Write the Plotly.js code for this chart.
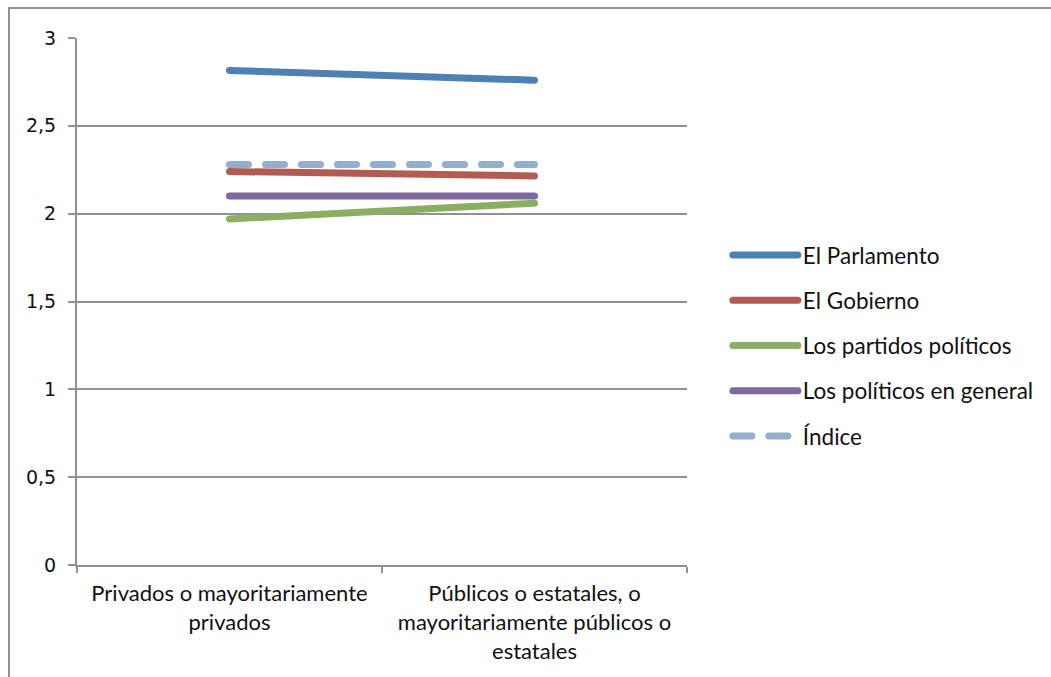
<!DOCTYPE html>
<html>
<head>
<meta charset="utf-8">
<script src="https://cdn.plot.ly/plotly-3.0.1.min.js"></script>
<style>
html,body{margin:0;padding:0;background:#fff;overflow:hidden;}
#wrap{position:relative;width:1051px;height:677px;}
#chart{position:absolute;left:0;top:0;width:1051px;height:677px;}
#frame{position:absolute;left:8px;top:7px;width:1060px;height:700px;border:2px solid #8f9393;box-sizing:border-box;pointer-events:none;}
.scatterlayer path.js-line, .legend path.js-line{stroke-linecap:round !important;}
</style>
</head>
<body>
<div id="wrap"><div id="chart"></div><div id="frame"></div></div>
<script>
const categories = ["Privados o mayoritariamente<br>privados", "Públicos o estatales, o<br>mayoritariamente públicos o<br>estatales"];
const seriesNames = ["El Parlamento", "El Gobierno", "Los partidos políticos", "Los políticos en general", "Índice"];
const parlamento = [2.815, 2.76];
const gobierno = [2.24, 2.215];
const partidos = [1.97, 2.06];
const politicos = [2.10, 2.10];
const indice = [2.28, 2.28];
const yTickVals = [0, 0.5, 1, 1.5, 2, 2.5, 3];

const values = [parlamento, gobierno, partidos, politicos, indice];
const colors = ["#4E80B3", "#B35B53", "#8CAE62", "#7F6AA0", "#93AECF"];
const dashes = ["solid", "solid", "solid", "solid", "19px,17px"];

const traces = values.map((v, i) => ({
  type: "scatter",
  mode: "lines",
  x: categories,
  y: v,
  name: seriesNames[i],
  legendgroup: "g" + i,
  line: {color: colors[i], width: 7, dash: dashes[i]},
  hoverinfo: "skip"
}));

const layout = {
  width: 1051,
  height: 677,
  margin: {l: 77, r: 361, t: 37.5, b: 112, pad: 0},
  paper_bgcolor: "#ffffff",
  plot_bgcolor: "#ffffff",
  separators: ",.",
  font: {family: "Lato, 'Open Sans', sans-serif", size: 22, color: "#111"},
  showlegend: true,
  legend: {
    x: 1.067, xanchor: "left", y: 0.416, yanchor: "middle",
    traceorder: "grouped", tracegroupgap: 13,
    itemwidth: 65,
    font: {family: "Lato, sans-serif", size: 22.5, color: "#111"},
    bgcolor: "rgba(0,0,0,0)"
  },
  xaxis: {
    type: "category",
    range: [-0.5, 1.5],
    showgrid: false,
    showline: true, linecolor: "#8f9393", linewidth: 2,
    ticks: "outside", tickson: "boundaries", ticklen: 6, tickwidth: 2, tickcolor: "#8f9393",
    tickfont: {family: "Lato, sans-serif", size: 22, color: "#111"},
    ticklabelstandoff: 8,
    fixedrange: true, zeroline: false
  },
  yaxis: {
    range: [0, 3],
    tickvals: yTickVals,
    showgrid: true, gridcolor: "#8f9393", gridwidth: 2,
    showline: true, linecolor: "#8f9393", linewidth: 2,
    ticks: "outside", ticklen: 7, tickwidth: 2, tickcolor: "#8f9393",
    tickfont: {family: "DejaVu Sans", size: 19, color: "#111"},
    ticklabelstandoff: 8,
    zeroline: false, fixedrange: true
  }
};

Plotly.newPlot("chart", traces, layout, {staticPlot: true, displayModeBar: false});
</script>
</body>
</html>
